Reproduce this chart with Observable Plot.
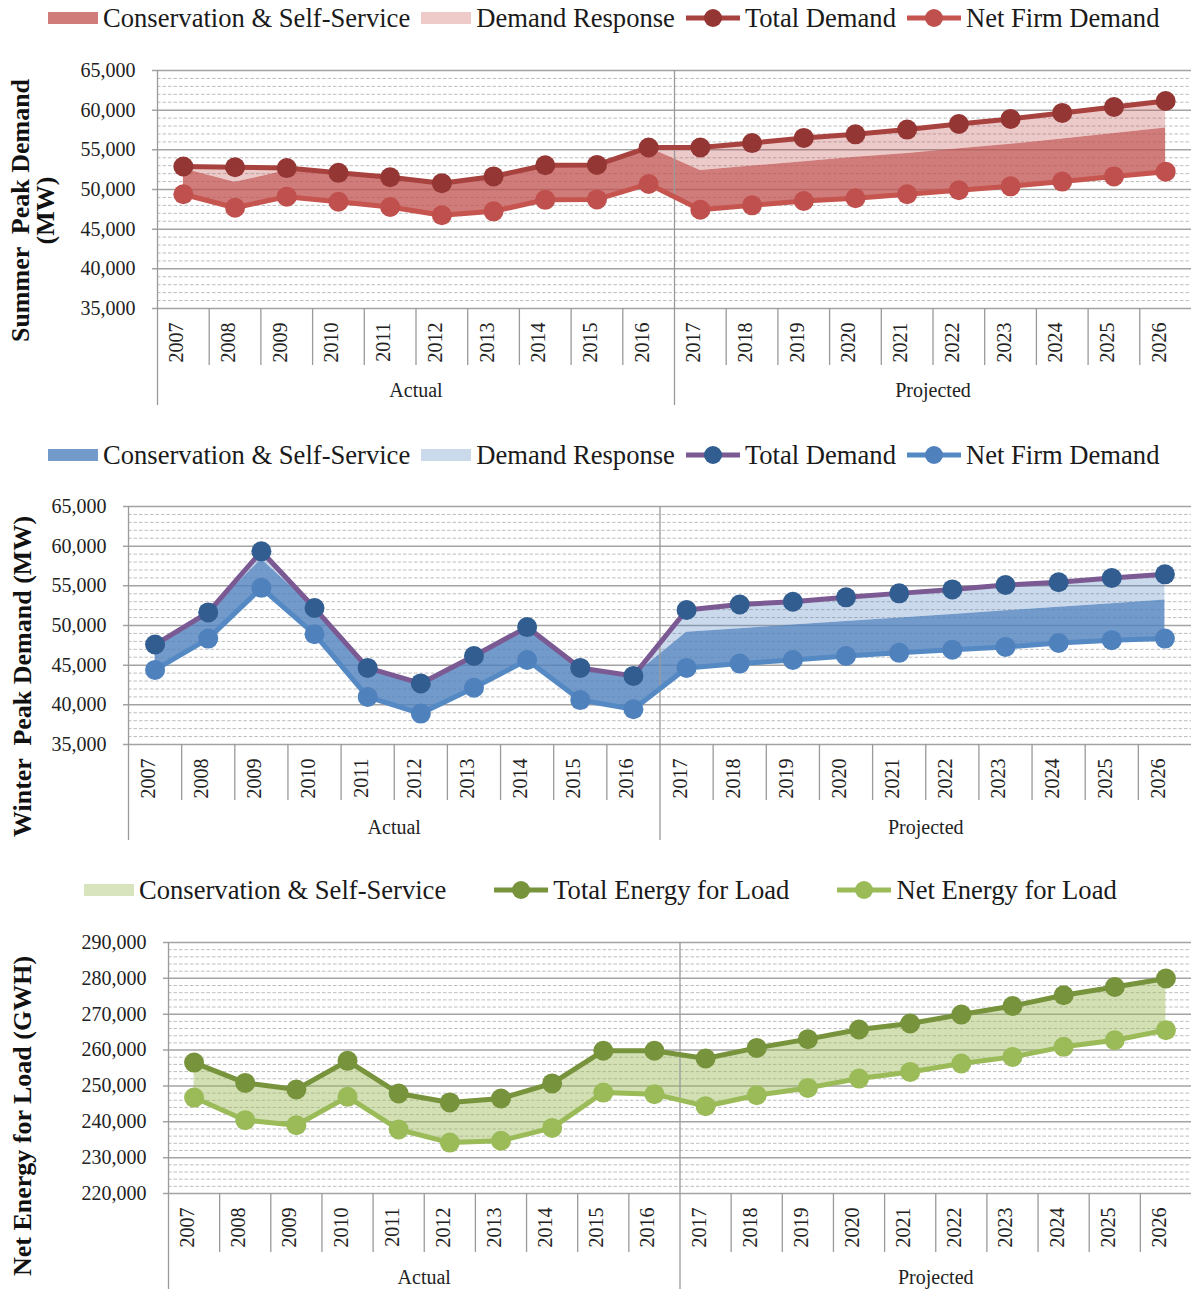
<!DOCTYPE html>
<html>
<head>
<meta charset="utf-8">
<script src="https://cdn.jsdelivr.net/npm/d3@7"></script>
<script src="https://cdn.jsdelivr.net/npm/@observablehq/plot@0.6"></script>
<style>
  html, body { margin: 0; padding: 0; background: #fff; }
  body { width: 1191px; height: 1289px; position: relative; overflow: hidden;
         font-family: "Liberation Serif", "Times New Roman", serif; }
  .legend { position: absolute; display: flex; align-items: center; height: 30px;
            font-size: 26.6px; color: #1a1a1a; white-space: nowrap; }
  .legend .item { display: flex; align-items: center; }
  .legend svg { display: block; margin-right: 5px; }
  .panel { position: absolute; left: 0; }
</style>
</head>
<body>
<div id="leg1" class="legend"></div>
<div id="p1" class="panel"></div>
<div id="leg2" class="legend"></div>
<div id="p2" class="panel"></div>
<div id="leg3" class="legend"></div>
<div id="p3" class="panel"></div>
<script>
// ---------- data ----------
const years = [2007, 2008, 2009, 2010, 2011, 2012, 2013, 2014, 2015, 2016,
               2017, 2018, 2019, 2020, 2021, 2022, 2023, 2024, 2025, 2026];
const periods = ["Actual", "Actual", "Actual", "Actual", "Actual", "Actual", "Actual", "Actual", "Actual", "Actual",
                 "Projected", "Projected", "Projected", "Projected", "Projected", "Projected", "Projected", "Projected", "Projected", "Projected"];

const summerTotal = [52900, 52800, 52700, 52100, 51550, 50800, 51650, 53050, 53100, 55300,
                     55300, 55850, 56500, 56950, 57550, 58250, 58900, 59650, 60400, 61150];
const summerNet   = [49400, 47700, 49100, 48450, 47800, 46750, 47250, 48700, 48750, 50700,
                     47450, 48000, 48550, 48900, 49400, 49900, 50400, 51000, 51650, 52250];
const summerDR    = [300, 1900, 300, 0, 0, 0, 0, 0, 0, 0,
                     2900, 2900, 3000, 2900, 3000, 3100, 3200, 3300, 3350, 3400];

const winterTotal = [47600, 51650, 59350, 52200, 44650, 42700, 46150, 49800, 44650, 43650,
                     51950, 52650, 53000, 53550, 54050, 54550, 55100, 55450, 56000, 56450];
const winterNet   = [44400, 48350, 54750, 48900, 41000, 38900, 42150, 45650, 40600, 39450,
                     44650, 45200, 45650, 46150, 46550, 46950, 47300, 47800, 48150, 48350];
const winterDR    = [0, 0, 1000, 0, 0, 0, 0, 0, 0, 0,
                     2800, 3050, 2950, 3050, 3100, 3150, 3250, 3150, 3250, 3250];

const energyTotal = [256500, 250850, 249000, 257000, 247900, 245400, 246500, 250700, 259800, 259800,
                     257650, 260600, 263050, 265750, 267400, 269900, 272300, 275300, 277600, 279950];
const energyNet   = [246750, 240450, 239050, 246950, 237850, 234200, 234700, 238300, 248150, 247700,
                     244350, 247400, 249450, 252050, 253900, 256250, 258100, 260900, 262750, 265550];

const demandTicks = [35000, 40000, 45000, 50000, 55000, 60000, 65000];
const energyTicks = [220000, 230000, 240000, 250000, 260000, 270000, 280000, 290000];

// ---------- helpers ----------
const groupNames = Array.from(new Set(periods));
const groupCenters = groupNames.map(g => d3.mean(periods.map((p, i) => p === g ? i : null).filter(v => v !== null)));
const groupBoundaries = groupNames.slice(1).map(g => periods.indexOf(g) - 0.5);
const yearBoundaries = d3.range(years.length - 1).map(i => i + 0.5).filter(b => !groupBoundaries.includes(b));

function legend(id, items, top, left, gap) {
  const el = document.getElementById(id);
  el.style.top = top + "px";
  el.style.left = left + "px";
  el.style.gap = gap + "px";
  for (const it of items) {
    const item = document.createElement("div");
    item.className = "item";
    const ns = "http://www.w3.org/2000/svg";
    const svg = document.createElementNS(ns, "svg");
    if (it.type === "area") {
      svg.setAttribute("width", 50); svg.setAttribute("height", 26);
      const r = document.createElementNS(ns, "rect");
      r.setAttribute("x", 0); r.setAttribute("y", 7); r.setAttribute("width", 50); r.setAttribute("height", 12);
      r.setAttribute("fill", it.color);
      svg.appendChild(r);
    } else {
      svg.setAttribute("width", 54); svg.setAttribute("height", 26);
      const l = document.createElementNS(ns, "line");
      l.setAttribute("x1", 0); l.setAttribute("x2", 54); l.setAttribute("y1", 13); l.setAttribute("y2", 13);
      l.setAttribute("stroke", it.line); l.setAttribute("stroke-width", 5);
      const c = document.createElementNS(ns, "circle");
      c.setAttribute("cx", 27); c.setAttribute("cy", 13); c.setAttribute("r", 9);
      c.setAttribute("fill", it.color);
      svg.appendChild(l); svg.appendChild(c);
    }
    const span = document.createElement("span");
    span.textContent = it.label;
    item.appendChild(svg); item.appendChild(span);
    el.appendChild(item);
  }
}

function panel(cfg) {
  const rows = years.map((yr, i) => ({
    i,
    total: cfg.total[i],
    net: cfg.net[i],
    consTop: cfg.total[i] - (cfg.dr ? cfg.dr[i] : 0)
  }));
  const [y0, y1] = d3.extent(cfg.ticks);
  const minor = d3.range(y0, y1 + 1, cfg.minorStep).filter(v => !cfg.ticks.includes(v));
  const marks = [
    Plot.ruleY(minor, {stroke: "#bdbdbd", strokeWidth: 1, strokeDasharray: "3.5,2"}),
    Plot.ruleY(cfg.ticks, {stroke: "#a3a3a3", strokeWidth: 1.5, insetLeft: -5}),
    Plot.areaY(rows, {x: "i", y1: "net", y2: "consTop", fill: cfg.consFill, fillOpacity: cfg.consOpacity, curve: "linear"})
  ];
  if (cfg.dr) {
    marks.push(Plot.areaY(rows, {x: "i", y1: "consTop", y2: "total", fill: cfg.drFill, fillOpacity: cfg.drOpacity, curve: "linear"}));
  }
  marks.push(
    Plot.ruleX([-0.5, ...groupBoundaries], {stroke: "#9a9a9a", strokeWidth: 1.3, insetBottom: -cfg.groupLine}),
    Plot.ruleX(yearBoundaries, {y1: () => y0, y2: () => y0, stroke: "#9a9a9a", strokeWidth: 1.3, insetBottom: -cfg.yearLine}),
    Plot.line(rows, {x: "i", y: "net", stroke: cfg.netLine, strokeWidth: 5}),
    Plot.line(rows, {x: "i", y: "total", stroke: cfg.totalLine, strokeWidth: 5}),
    Plot.dot(rows, {x: "i", y: "net", r: 10, fill: cfg.netDot, stroke: "none"}),
    Plot.dot(rows, {x: "i", y: "total", r: 10, fill: cfg.totalDot, stroke: "none"}),
    Plot.text(years, {x: (d, i) => i, text: d => String(d), frameAnchor: "bottom", rotate: -90,
                      textAnchor: "end", dy: 14, fontSize: 20, fill: "#222"}),
    Plot.text(groupNames, {x: (d, i) => groupCenters[i], text: d => d, frameAnchor: "bottom",
                           dy: cfg.groupDy, fontSize: 20, fill: "#222"}),
    Plot.text([cfg.title], {frameAnchor: "left", rotate: -90, textAnchor: "middle", dx: cfg.titleDx, dy: cfg.titleDy,
                            fontSize: 26, fontWeight: "bold", lineHeight: 0.96, fill: "#111"})
  );
  return Plot.plot({
    width: 1191,
    height: cfg.height,
    marginTop: cfg.marginTop,
    marginBottom: cfg.marginBottom,
    marginLeft: cfg.marginLeft,
    marginRight: 0,
    style: {fontFamily: "'Liberation Serif', 'Times New Roman', serif", fontSize: "20px", color: "#222", background: "transparent", overflow: "visible"},
    x: {domain: [-0.5, years.length - 0.5], axis: null},
    y: {domain: [y0, y1], ticks: cfg.ticks, tickFormat: d3.format(","), tickSize: 0, tickPadding: 22, label: null},
    marks
  });
}

// ---------- Summer ----------
legend("leg1", [
  {type: "area", color: "#d07c7a", label: "Conservation & Self-Service"},
  {type: "area", color: "#eecac9", label: "Demand Response"},
  {type: "line", color: "#943634", line: "#a8423f", label: "Total Demand"},
  {type: "line", color: "#c0504d", line: "#c6544f", label: "Net Firm Demand"}
], 3, 48, 11);
const p1 = document.getElementById("p1");
p1.style.top = "40px";
p1.appendChild(panel({
  total: summerTotal, net: summerNet, dr: summerDR, ticks: demandTicks, minorStep: 1000,
  consFill: "#c0504d", consOpacity: 0.75, drFill: "#c0504d", drOpacity: 0.3,
  totalLine: "#a8423f", totalDot: "#943634", netLine: "#c6544f", netDot: "#c0504d",
  height: 368, marginTop: 30, marginBottom: 100, marginLeft: 157,
  groupLine: 97, yearLine: 57, groupDy: 88,
  title: "Summer  Peak Demand\n(MW)", titleDx: -124, titleDy: 21
}));

// ---------- Winter ----------
legend("leg2", [
  {type: "area", color: "#729aca", label: "Conservation & Self-Service"},
  {type: "area", color: "#cadaeb", label: "Demand Response"},
  {type: "line", color: "#315d90", line: "#7b5a94", label: "Total Demand"},
  {type: "line", color: "#4f81bd", line: "#5589c4", label: "Net Firm Demand"}
], 440, 48, 11);
const p2 = document.getElementById("p2");
p2.style.top = "477px";
p2.appendChild(panel({
  total: winterTotal, net: winterNet, dr: winterDR, ticks: demandTicks, minorStep: 1000,
  consFill: "#4f81bd", consOpacity: 0.8, drFill: "#4f81bd", drOpacity: 0.3,
  totalLine: "#7b5a94", totalDot: "#315d90", netLine: "#5589c4", netDot: "#4f81bd",
  height: 367, marginTop: 29, marginBottom: 100, marginLeft: 128,
  groupLine: 96, yearLine: 56, groupDy: 89,
  title: "Winter  Peak Demand (MW)", titleDx: -106, titleDy: 51
}));

// ---------- Energy ----------
legend("leg3", [
  {type: "area", color: "#d7e4bd", label: "Conservation & Self-Service"},
  {type: "line", color: "#77933c", line: "#77933c", label: "Total Energy for Load"},
  {type: "line", color: "#9bbb59", line: "#9bbb59", label: "Net Energy for Load"}
], 875, 84, 48);
const p3 = document.getElementById("p3");
p3.style.top = "912px";
p3.appendChild(panel({
  total: energyTotal, net: energyNet, dr: null, ticks: energyTicks, minorStep: 2000,
  consFill: "#9bbb59", consOpacity: 0.45,
  totalLine: "#77933c", totalDot: "#77933c", netLine: "#9bbb59", netDot: "#9bbb59",
  height: 377, marginTop: 30, marginBottom: 96, marginLeft: 168,
  groupLine: 96, yearLine: 59, groupDy: 90,
  title: "Net Energy for Load (GWH)", titleDx: -146, titleDy: 48
}));
</script>
</body>
</html>
